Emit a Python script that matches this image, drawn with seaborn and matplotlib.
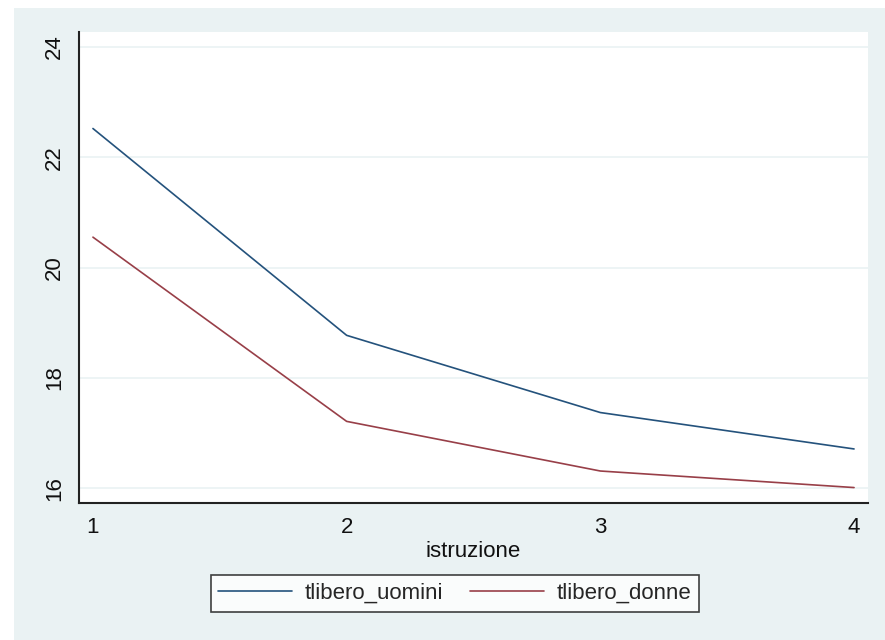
import matplotlib
matplotlib.use("Agg")
import matplotlib.pyplot as plt
import seaborn as sns
import pandas as pd
from matplotlib.patches import Rectangle

istruzione = [1, 2, 3, 4]
tlibero_uomini = [22.52, 18.77, 17.37, 16.71]
tlibero_donne = [20.55, 17.21, 16.31, 16.01]
series_names = ["tlibero_uomini", "tlibero_donne"]
y_ticks = [16, 18, 20, 22, 24]
x_ticks = [1, 2, 3, 4]

df = pd.DataFrame({
    "istruzione": istruzione * 2,
    "value": tlibero_uomini + tlibero_donne,
    "series": [series_names[0]] * 4 + [series_names[1]] * 4,
})

sns.set_style("white")
plt.rcParams["font.family"] = ["Liberation Sans", "DejaVu Sans"]

BG = "#EAF2F3"
W, H = 885, 640
fig = plt.figure(figsize=(W / 100, H / 100), dpi=100, facecolor="white")
fig.patches.append(Rectangle((14 / W, 0), 1 - 14 / W, 1 - 8 / H,
                             transform=fig.transFigure, facecolor=BG,
                             edgecolor="none", zorder=-10))

ax = fig.add_axes([79 / W, (H - 503) / H, (868 - 79) / W, (503 - 32) / H])
ax.set_facecolor("white")

sns.lineplot(data=df, x="istruzione", y="value", hue="series",
             palette=["#24527c", "#983f48"], linewidth=1.2, ax=ax)

handles, labels = ax.get_legend_handles_labels()
ax.get_legend().remove()

ax.set_xlim(0.945, 4.055)
ax.set_ylim(15.73, 24.27)
ax.set_yticks(y_ticks)
ax.set_xticks(x_ticks)
ax.set_yticklabels([str(v) for v in y_ticks], rotation=90, va="center")
ax.set_xticklabels([str(v) for v in x_ticks])
ax.tick_params(axis="both", labelsize=16, length=6, width=1.2,
               color="#222222", labelcolor="#111111", direction="out")
ax.tick_params(axis="y", pad=4)
ax.tick_params(axis="x", pad=4)
ax.grid(axis="y", color=BG, linewidth=1.2)
ax.grid(axis="x", visible=False)
for s in ["top", "right"]:
    ax.spines[s].set_visible(False)
for s in ["left", "bottom"]:
    ax.spines[s].set_color("#222222")
    ax.spines[s].set_linewidth(1.5)

ax.set_xlabel("istruzione", fontsize=16, labelpad=2, color="#111111")
ax.set_ylabel("")

leg = fig.legend(handles, labels, loc="center",
                 bbox_to_anchor=(455 / W, 1 - 593.5 / H), ncol=2,
                 fontsize=16, frameon=True, fancybox=False, shadow=False,
                 handlelength=3.3, handletextpad=0.6, columnspacing=1.2,
                 borderpad=0.35, borderaxespad=0)
leg.get_frame().set_edgecolor("#111111")
leg.get_frame().set_linewidth(1.2)
leg.get_frame().set_facecolor("white")

fig.savefig("out.png", dpi=100, facecolor=fig.get_facecolor())
